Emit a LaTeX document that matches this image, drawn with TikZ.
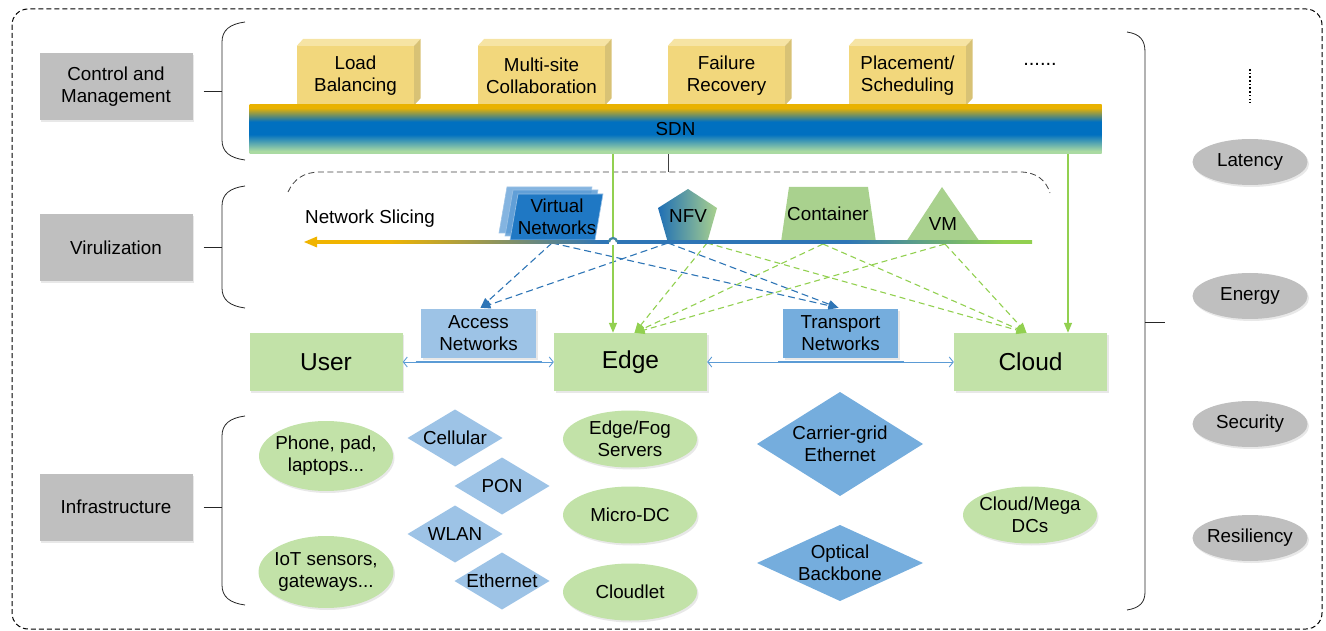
\documentclass[tikz,border=0pt]{standalone}
\usepackage{fontspec}
\setmainfont{Liberation Sans}
\usetikzlibrary{arrows.meta,shapes.geometric,shadows,calc}

\definecolor{boxgray}{HTML}{BFBFBF}
\definecolor{sitegreen}{HTML}{C2E2A8}
\definecolor{mgreen}{HTML}{A9D18E}
\definecolor{arrgreen}{HTML}{92D050}
\definecolor{lblue}{HTML}{9DC3E6}
\definecolor{mblue}{HTML}{75ADDD}
\definecolor{dblue}{HTML}{2E75B6}
\definecolor{lineblue}{HTML}{5B9BD5}
\definecolor{vnblue}{HTML}{1F78C4}
\definecolor{vnback}{HTML}{5B9BD5}
\definecolor{nfvblue}{HTML}{1F6FB5}
\definecolor{sdngold}{HTML}{E9B200}
\definecolor{sdnblue}{HTML}{0070C0}
\definecolor{sdngreen}{HTML}{AADAA2}
\definecolor{ygold}{HTML}{F2D77C}
\definecolor{ytop}{HTML}{F6E4A4}
\definecolor{yside}{HTML}{D8C275}
\definecolor{slorange}{HTML}{F0B400}

% colour bands of the SDN bar (bottom to top) and of the slicing axis (left to right)
\pgfdeclareverticalshading{sdnshade}{100bp}{color(0bp)=(sdngreen); color(28bp)=(sdngreen); color(45bp)=(sdnblue); color(58bp)=(sdnblue); color(72bp)=(sdngold); color(100bp)=(sdngold)}
\pgfdeclarehorizontalshading{slicingshade}{100bp}{color(0bp)=(slorange); color(30bp)=(slorange); color(45bp)=(dblue); color(62bp)=(dblue); color(73bp)=(arrgreen); color(100bp)=(arrgreen)}

\tikzset{
  base/.style={font=\fontsize{18.8}{22}\selectfont, align=center, inner sep=0pt},
  shad/.style={drop shadow={shadow xshift=1.5pt,shadow yshift=-2pt,opacity=0.15,fill=black!60}},
  graybox/.style={base, fill=boxgray, minimum width=153, minimum height=67, shad},
  ybox/.style={base, fill=ygold, minimum height=59},
  sitebox/.style={base, fill=sitegreen, minimum width=153, minimum height=58, font=\fontsize{24.5}{28}\selectfont, shad},
  netbox/.style={base, minimum width=115, minimum height=49, shad},
  infoval/.style={base, ellipse, inner sep=-4pt, fill=sitegreen, minimum width=134, minimum height=57, shad},
  metric/.style={base, ellipse, inner sep=-3pt, fill=boxgray, minimum width=115, minimum height=46, shad},
  bracket/.style={line width=0.8pt, black!85},
  gsolid/.style={arrgreen, line width=1.4pt, -{Triangle[length=10pt,width=8pt]}},
  gdash/.style={arrgreen, line width=1.1pt, dash pattern=on 6pt off 4pt, -{Triangle[length=10pt,width=8pt]}},
  bdash/.style={dblue, line width=1.1pt, dash pattern=on 7pt off 4pt, -{Triangle[length=10pt,width=8pt]}},
  dbl/.style={lineblue, line width=0.9pt, {Straight Barb[length=4pt,width=10pt]}-{Straight Barb[length=4pt,width=10pt]}},
}

% front face of a raised yellow function block plus its top and side
\newcommand{\yellowcube}[4]{%
  \node[ybox, minimum width=#3] (#1) at (#2) {#4};
  \fill[ytop] (#1.north west) -- ++(6.5,-7) -- ($(#1.north east)+(6.5,-7)$) -- (#1.north east) -- cycle;
  \fill[yside] (#1.north east) -- ++(6.5,-7) -- ($(#1.south east)+(6.5,-7)$) -- (#1.south east) -- cycle;
}

% rhombus of given width and height with its label: name, centre, width, height, colour, text
\newcommand{\rhombus}[6]{%
  \fill[#5] ($(#2)+(-#3/2,0)$) -- ($(#2)+(0,-#4/2)$) -- ($(#2)+(#3/2,0)$) -- ($(#2)+(0,#4/2)$) -- cycle;
  \node[base] (#1) at (#2) {#6};
}

\begin{document}
\begin{tikzpicture}[x=1pt,y=-1pt]
\useasboundingbox (0,0) rectangle (1326,631);

% outer frame
\draw[line width=1pt, black, dash pattern=on 5pt off 3pt, rounded corners=16] (12,9) rectangle (1322,629);

% layer labels
\node[graybox] (cm)  at (116,86.5) {Control and\\Management};
\node[graybox] (vir) at (116,247.5) {Virulization};
\node[graybox] (inf) at (116,507) {Infrastructure};

% layer braces
\draw[bracket] (245,22) .. controls (230,24) and (222,30) .. (222,42) -- (222,140) .. controls (222,152) and (230,158) .. (245,160);
\draw[bracket] (245,186) .. controls (230,188) and (222,194) .. (222,206) -- (222,288) .. controls (222,300) and (230,306) .. (245,308);
\draw[bracket] (245,416) .. controls (230,418) and (222,424) .. (222,436) -- (222,585) .. controls (222,597) and (230,603) .. (245,605);
\coordinate (b1) at (222,91);
\coordinate (b2) at (222,247.5);
\coordinate (b3) at (222,507);
\draw[bracket] ($(cm.east)+(11,4.5)$) -- (b1);
\draw[bracket] ($(vir.east)+(11,0)$) -- (b2);
\draw[bracket] ($(inf.east)+(11,0)$) -- (b3);

% right brace grouping the metrics
\draw[bracket] (1127,32) .. controls (1140,34) and (1145,40) .. (1145,52) -- (1145,592) .. controls (1145,602) and (1140,608) .. (1127,610);
\coordinate (rb) at (1145,322);
\coordinate (rbt) at (1165,322);
\draw[bracket] (rb) -- (rbt);

% metrics
\node[metric] (lat) at (1250,162) {Latency};
\node[metric] (ene) at (1250,296) {Energy};
\node[metric] (sec) at (1250,424) {Security};
\node[metric] (res) at (1250,538) {Resiliency};
\draw[line width=1.8pt, dash pattern=on 1.6pt off 2.1pt] (1250,69) -- (1250,103);

% control and management functions
\yellowcube{lb}{355.5,75.5}{117}{Load\\Balancing}
\yellowcube{ms}{541.5,75.5}{127}{Multi-site\\Collaboration}
\yellowcube{fr}{726.5,75.5}{117}{Failure\\Recovery}
\yellowcube{ps}{907.5,75.5}{117}{Placement/\\Scheduling}
\node[base, font=\fontsize{20}{24}\selectfont] (more) at (1040,64) {......};

% SDN bar
\node[base, shading=sdnshade, minimum width=852, minimum height=49] (sdn) at (675.5,129.5) {SDN};

% virtualization area outline
\draw[line width=0.8pt, black!75, dash pattern=on 6pt off 3.5pt] (288,192) .. controls (294,179) and (304,172) .. (320,172) -- (1020,172) .. controls (1036,172) and (1046,180) .. (1050,193);
\coordinate (vtop) at (668,172);
\coordinate (sdnx) at (668,0);
\draw[line width=0.8pt, black!75] (sdn.south -| sdnx) -- (vtop);

% virtual networks (stacked slices)
\path[fill=vnback, fill opacity=0.75, draw=lblue, line width=0.6pt] (499,233) -- (584,233) -- (592,187) -- (507,187) -- cycle;
\path[fill=vnback, fill opacity=0.85, draw=lblue, line width=0.6pt] (505,236) -- (590,236) -- (598,190) -- (513,190) -- cycle;
\path[fill=vnblue, draw=lblue, line width=0.6pt] (510,240) -- (595,240) -- (603,194) -- (518,194) -- cycle;
\node[base] (vn) at (557,217) {Virtual\\Networks};

% NFV pentagon
\shade[left color=nfvblue, right color=mgreen] (688,189) -- (717,208) -- (707,243) -- (668,243) -- (658,208) -- cycle;
\node[base] (nfv) at (688,216) {NFV};

% container and VM
\fill[mgreen] (789,187) -- (868,187) -- (876,242) -- (781,242) -- cycle;
\node[base] (con) at (828,214) {Container};
\fill[mgreen] (942,187) -- (980,242) -- (906,242) -- cycle;
\node[base] (vm) at (943,224) {VM};

% sites and transport segments
\node[sitebox] (user)  at (326,362) {User};
\node[sitebox] (edge)  at (630.5,362) {Edge};
\node[sitebox] (cloud) at (1030.5,362) {Cloud};
\node[netbox, fill=lblue] (acc) at (478.5,333.5) {Access\\Networks};
\node[netbox, fill=mblue] (tra) at (840.5,333.5) {Transport\\Networks};

% anchors of the mapping arrows
\coordinate (vnS)  at (552,243);
\coordinate (nfvS) at (668,243);
\coordinate (nfvR) at (707,243);
\coordinate (conS) at (823,244);
\coordinate (vmS)  at (945,244);

% virtual resources mapped onto sites and networks
\draw[bdash] (vnS) -- ($(acc.north)+(2,-1)$);
\draw[bdash] (nfvS) -- ($(acc.north)+(2,-1)$);
\draw[bdash] (vnS) -- ($(tra.north)+(-2,-1)$);
\draw[bdash] (nfvS) -- ($(tra.north)+(-2,-1)$);
\draw[gdash] (nfvR) -- ($(edge.north)+(4,0)$);
\draw[gdash] (conS) -- ($(edge.north)+(4,0)$);
\draw[gdash] (vmS)  -- ($(edge.north)+(4,0)$);
\draw[gdash] (nfvR) -- ($(cloud.north)+(-4,0)$);
\draw[gdash] (conS) -- ($(cloud.north)+(-4,0)$);
\draw[gdash] (vmS)  -- ($(cloud.north)+(-4,0)$);

% SDN control of edge and cloud
\coordinate (gx1) at (613,0);
\coordinate (gx2) at (1068,0);
\draw[gsolid] (sdn.south -| gx1) -- (edge.north -| gx1);
\draw[gsolid] (sdn.south -| gx2) -- (cloud.north -| gx2);

% network slicing axis
\shade[shading=slicingshade] (316,240.7) rectangle (1032,243.3);
\fill[white] (609,239) rectangle (617,245);
\draw[dblue!80!arrgreen, line width=2.2pt] (609,242) arc (180:360:4);
\fill[slorange] (304,242) -- (317,236.5) -- (317,247.5) -- cycle;
\node[base, anchor=west] (ns) at (305,219) {Network Slicing};

% site links
\draw[dbl] (user.east) -- (edge.west);
\draw[dbl] (edge.east) -- (cloud.west);
\draw[lineblue, line width=2pt] ($(user.east)+(13,0)$) -- ($(edge.west)+(-12,0)$);
\draw[lineblue, line width=2pt] ($(edge.east)+(71,0)$) -- ($(cloud.west)+(-50,0)$);

% infrastructure
\node[infoval, minimum height=70] (phone) at (326,456) {Phone, pad,\\laptops...};
\node[infoval, minimum height=72] (iot) at (326,572) {IoT sensors,\\gateways...};
\rhombus{cell}{455,438}{95}{57}{lblue}{Cellular}
\rhombus{pon}{502,486}{95}{57}{lblue}{PON}
\rhombus{wlan}{455,534}{95}{57}{lblue}{WLAN}
\rhombus{eth}{502,581}{95}{57}{lblue}{Ethernet}
\node[infoval] (efs)  at (630,439) {Edge/Fog\\Servers};
\node[infoval] (mdc)  at (630,515) {Micro-DC};
\node[infoval] (clet) at (630,592) {Cloudlet};
\rhombus{cge}{840,444}{166}{104}{mblue}{Carrier-grid\\Ethernet}
\rhombus{obb}{840,563}{166}{76}{mblue}{Optical\\Backbone}
\node[infoval] (mega) at (1030,515) {Cloud/Mega\\DCs};

\end{tikzpicture}
\end{document}
